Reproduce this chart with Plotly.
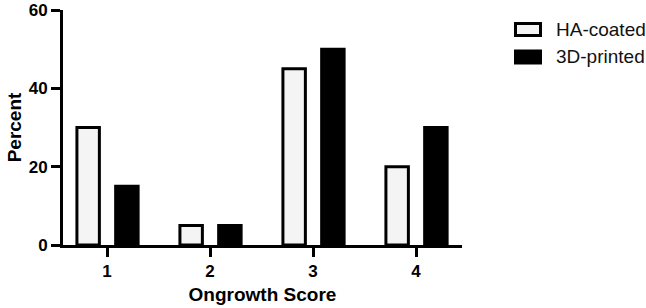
import plotly.graph_objects as go

# ---- data ----
scores = [1, 2, 3, 4]
tick_labels = ["1", "2", "3", "4"]
series_names = ["HA-coated", "3D-printed"]
ha_coated = [30, 5, 45, 20]
printed_3d = [15, 5, 50, 30]

# ---- styles ----
W, H = 646, 308
PL, PR, PT, PB = 63, 462, 9.5, 245  # plot area in pixels
FONT = "Arial, Liberation Sans, sans-serif"
fills = ["#f4f4f4", "#000000"]
BAR_W = 0.218
offsets = [-0.292, 0.084]

fig = go.Figure()
for name, vals, fc, off in zip(series_names, [ha_coated, printed_3d], fills, offsets):
    fig.add_trace(go.Bar(
        x=scores, y=vals, name=name, width=BAR_W, offset=off,
        marker=dict(color=fc, line=dict(color="#000000", width=3)),
        showlegend=False, hoverinfo="skip",
    ))

def px_x(p):
    return (p - PL) / (PR - PL)

def px_y(p):
    return (PB - p) / (PB - PT)

# manual legend (boxes + labels)
leg_rows = [29, 56.5]
for name, fc, yc in zip(series_names, fills, leg_rows):
    fig.add_shape(type="rect", xref="paper", yref="paper",
                  x0=px_x(515.5), x1=px_x(540.5), y0=px_y(yc + 6), y1=px_y(yc - 6),
                  fillcolor=fc, line=dict(color="#000000", width=3))
    fig.add_annotation(xref="paper", yref="paper", x=px_x(554), y=px_y(yc),
                       text=name, showarrow=False, xanchor="left", yanchor="middle",
                       font=dict(family=FONT, size=19, color="#111111"))

fig.update_layout(
    width=W, height=H,
    margin=dict(l=PL, r=W - PR, t=PT, b=H - PB, pad=0, autoexpand=False),
    paper_bgcolor="white", plot_bgcolor="white",
    barmode="overlay",
    font=dict(family=FONT, color="#000000"),
    showlegend=False,
)
fig.update_xaxes(
    range=[1 - 44 / 103, 4 + 46 / 103], automargin=False,
    tickmode="array", tickvals=scores, ticktext=tick_labels,
    showline=True, linecolor="#000000", linewidth=3,
    ticks="outside", ticklen=9, tickwidth=3, tickcolor="#000000",
    showgrid=False, zeroline=False,
    tickfont=dict(family=FONT, size=17, color="#000000", weight="bold"),
    title=dict(text="<b>Ongrowth Score</b>", standoff=8,
               font=dict(family=FONT, size=19, color="#000000")),
)
fig.update_yaxes(
    range=[0, 60], tickvals=[0, 20, 40, 60], automargin=False,
    showline=True, linecolor="#000000", linewidth=3,
    ticks="outside", ticklen=9, tickwidth=3, tickcolor="#000000",
    showgrid=False, zeroline=False,
    tickfont=dict(family=FONT, size=17, color="#000000", weight="bold"),
    title=dict(text="<b>Percent</b>", standoff=3,
               font=dict(family=FONT, size=19, color="#000000")),
)

fig.write_html("out.html", config={"displayModeBar": False},
               post_script="document.body.style.margin='0';")
